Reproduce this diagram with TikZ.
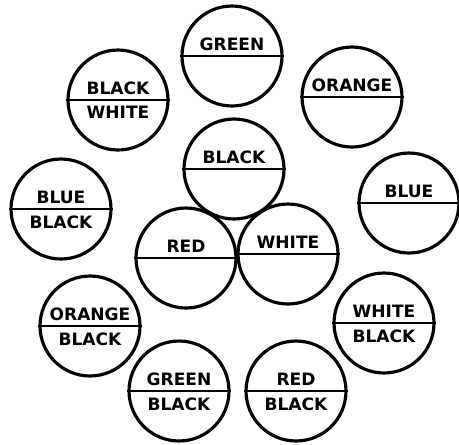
\documentclass[tikz,border=0pt]{standalone}
\usepackage{fontspec}
\setmainfont{DejaVu Sans}
\usetikzlibrary{positioning}

\tikzset{
  plug/.style={draw, circle, line width=1.8pt, minimum size=2cm, inner sep=0pt},
  tag/.style={font=\bfseries\fontsize{9.7}{10}\selectfont, inner sep=0pt},
}

\begin{document}
\begin{tikzpicture}[x=0.02cm,y=-0.02cm]
  \useasboundingbox (0,0) rectangle (459,444);
  % outer ring of circles (pixel grid, y down)
  \node[plug] (green)       at (232,56)  {};
  \node[plug] (blackwhite)  at (118,100) {};
  \node[plug] (orange)      at (352,97)  {};
  \node[plug] (blueblack)   at (61,209)  {};
  \node[plug] (blue)        at (409,203) {};
  \node[plug] (orangeblack) at (90,326)  {};
  \node[plug] (whiteblack)  at (384,323) {};
  \node[plug] (greenblack)  at (179,391) {};
  \node[plug] (redblack)    at (296,391) {};
  % middle group of three
  \node[plug] (black)       at (234,169) {};
  \node[plug] (red)         at (186,258) {};
  \node[plug] (white)       at (288,254) {};
  % dividing lines
  \foreach \c in {green,blackwhite,orange,blueblack,blue,orangeblack,
                  whiteblack,greenblack,redblack,black,red,white}
    \draw[line width=1.6pt] (\c.west) -- (\c.east);
  % upper labels
  \node[tag, above=0.1cm of green.center]       {GREEN};
  \node[tag, above=0.1cm of blackwhite.center]  {BLACK};
  \node[tag, above=0.1cm of orange.center]      {ORANGE};
  \node[tag, above=0.1cm of blueblack.center]   {BLUE};
  \node[tag, above=0.1cm of blue.center]        {BLUE};
  \node[tag, above=0.1cm of orangeblack.center] {ORANGE};
  \node[tag, above=0.1cm of whiteblack.center]  {WHITE};
  \node[tag, above=0.1cm of greenblack.center]  {GREEN};
  \node[tag, above=0.1cm of redblack.center]    {RED};
  \node[tag, above=0.1cm of black.center]       {BLACK};
  \node[tag, above=0.1cm of red.center]         {RED};
  \node[tag, above=0.1cm of white.center]       {WHITE};
  % lower labels
  \node[tag, below=0.12cm of blackwhite.center]  {WHITE};
  \node[tag, below=0.12cm of blueblack.center]   {BLACK};
  \node[tag, below=0.12cm of orangeblack.center] {BLACK};
  \node[tag, below=0.12cm of whiteblack.center]  {BLACK};
  \node[tag, below=0.12cm of greenblack.center]  {BLACK};
  \node[tag, below=0.12cm of redblack.center]    {BLACK};
\end{tikzpicture}
\end{document}
